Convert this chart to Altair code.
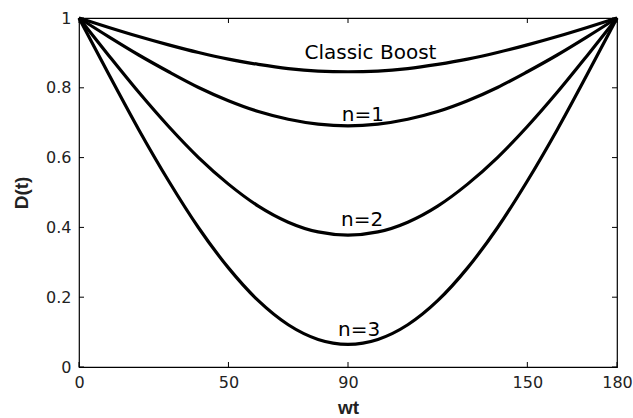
import altair as alt
import pandas as pd

wt = [0, 10, 20, 30, 40, 50, 60, 70, 80, 90, 100, 110, 120, 130, 140, 150, 160, 170, 180]
classic_boost = [1.0, 0.973, 0.947, 0.923, 0.901, 0.882, 0.867, 0.855, 0.848, 0.846,
                 0.848, 0.855, 0.867, 0.882, 0.901, 0.923, 0.947, 0.973, 1.0]
n1 = [1.0, 0.946, 0.894, 0.846, 0.801, 0.763, 0.732, 0.710, 0.696, 0.691,
      0.696, 0.710, 0.732, 0.763, 0.801, 0.846, 0.894, 0.946, 1.0]
n2 = [1.0, 0.892, 0.787, 0.689, 0.600, 0.524, 0.461, 0.415, 0.387, 0.378,
      0.387, 0.415, 0.461, 0.524, 0.600, 0.689, 0.787, 0.892, 1.0]
n3 = [1.0, 0.838, 0.680, 0.533, 0.399, 0.284, 0.190, 0.121, 0.079, 0.065,
      0.079, 0.121, 0.190, 0.284, 0.399, 0.533, 0.680, 0.838, 1.0]

series_names = ["Classic Boost", "n=1", "n=2", "n=3"]
label_wt = [97.5, 95.0, 94.7, 93.7]
label_d = [0.900, 0.722, 0.421, 0.106]

x_ticks = [0, 50, 90, 150, 180]
y_ticks = [0, 0.2, 0.4, 0.6, 0.8, 1]

rows = []
for name, vals in zip(series_names, [classic_boost, n1, n2, n3]):
    for w, d in zip(wt, vals):
        rows.append({"series": name, "wt": w, "D": d})
df = pd.DataFrame(rows)
labels = pd.DataFrame({"label": series_names, "wt": label_wt, "D": label_d})
xt = pd.DataFrame({"wt": x_ticks})
yt = pd.DataFrame({"D": y_ticks})

FONT = "DejaVu Sans"
TFONT = "Liberation Sans"
W, H = 538, 349

xs = alt.Scale(domain=[0, 180], nice=False, zero=False)
ys = alt.Scale(domain=[0, 1], nice=False)

x_axis = alt.Axis(values=x_ticks, ticks=False, grid=False, domain=False,
                  labelFontSize=16, labelPadding=7, labelFont=FONT, labelColor="#222",
                  title="wt", titleFont=TFONT, titleFontSize=19, titleFontWeight="bold",
                  titlePadding=8, titleColor="#222", labelFlush=False)
y_axis = alt.Axis(values=y_ticks, ticks=False, grid=False, domain=False, format="~g",
                  labelFontSize=16, labelPadding=8, labelFont=FONT, labelColor="#222",
                  title="D(t)", titleFont=TFONT, titleFontSize=19, titleFontWeight="bold",
                  titlePadding=14, titleColor="#222", labelFlush=False)

lines = alt.Chart(df).mark_line(color="black", strokeWidth=3.2, interpolate="monotone").encode(
    x=alt.X("wt:Q", scale=xs, axis=x_axis),
    y=alt.Y("D:Q", scale=ys, axis=y_axis),
    detail="series:N",
)

text = alt.Chart(labels).mark_text(font=FONT, fontSize=20, color="black", baseline="middle").encode(
    x=alt.X("wt:Q", scale=xs),
    y=alt.Y("D:Q", scale=ys),
    text="label:N",
)

tb = alt.Chart(xt).mark_rule(color="black", strokeWidth=1).encode(
    x=alt.X("wt:Q", scale=xs), y=alt.value(H), y2=alt.value(H - 5))
tt = alt.Chart(xt).mark_rule(color="black", strokeWidth=1).encode(
    x=alt.X("wt:Q", scale=xs), y=alt.value(0), y2=alt.value(5))
yl = alt.Chart(yt).mark_rule(color="black", strokeWidth=1).encode(
    y=alt.Y("D:Q", scale=ys), x=alt.value(0), x2=alt.value(5))
yr = alt.Chart(yt).mark_rule(color="black", strokeWidth=1).encode(
    y=alt.Y("D:Q", scale=ys), x=alt.value(W), x2=alt.value(W - 5))

chart = alt.layer(tb, tt, yl, yr, lines, text).properties(
    width=W, height=H,
    autosize=alt.AutoSizeParams(type="none"),
    padding={"left": 79, "top": 18, "right": 16, "bottom": 51},
    background="white",
).configure_view(stroke="black", strokeWidth=1.2)

chart.save("out.html", embed_options={"renderer": "svg", "actions": False})
